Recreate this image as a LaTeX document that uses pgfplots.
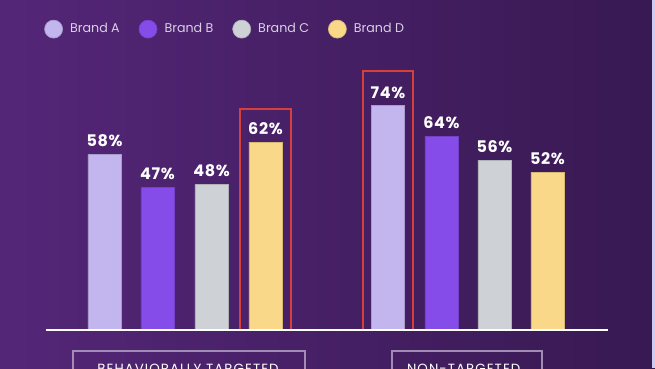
\documentclass[border=0pt]{standalone}
\usepackage{pgfplots}
\pgfplotsset{compat=1.18}
\usepackage{fontspec}
\setmainfont{Poppins}
\definecolor{bgL}{RGB}{84,38,120}
\definecolor{bgR}{RGB}{56,25,82}
\definecolor{brA}{RGB}{195,182,238}
\definecolor{brB}{RGB}{134,76,234}
\definecolor{brC}{RGB}{206,209,213}
\definecolor{brD}{RGB}{250,216,137}
\definecolor{hl}{RGB}{214,64,58}
\definecolor{lgtxt}{RGB}{218,208,230}
\definecolor{boxc}{RGB}{160,140,180}
\definecolor{edge}{RGB}{205,205,240}
\pgfplotsset{dotlegend/.style={legend image code/.code={\fill[##1] (0pt,0pt) circle (6.75pt);}}}
\begin{document}
\begin{tikzpicture}[x=0.75pt,y=0.75pt]
\useasboundingbox (0,0) rectangle (655,368);
\shade[left color=bgL,right color=bgR] (0,0) rectangle (655,368);
\fill[edge] (652,0) rectangle (655,368);
\clip (0,0) rectangle (655,368);
\begin{axis}[
  at={(0,0)}, anchor=south west,
  scale only axis, width=491.25pt, height=276pt,
  xmin=0, xmax=655, ymin=-12.54, ymax=108.91,
  axis lines=none, clip=false,
  nodes near coords={\pgfmathprintnumber[assume math mode=true]{\pgfplotspointmeta}\%},
  every node near coord/.append style={font=\bfseries\fontsize{12}{12}\selectfont\addfontfeatures{LetterSpace=4}, text=white, yshift=2pt},
  legend columns=4,
  legend style={at={(axis cs:44,99.3)}, anchor=west, draw=none, fill=none, inner sep=0pt,
    font=\fontsize{9.5}{10}\selectfont, text=lgtxt,
    /tikz/every even column/.append style={column sep=12.2pt},
    /tikz/every odd column/.append style={column sep=3.4pt}},
]
\addplot[ybar, bar width=25pt, bar shift=0pt, fill=brA, draw=brA!85!black, line width=0.5pt, dotlegend] coordinates {(104.5,58) (388,74)};
\addlegendentry{Brand A}
\addplot[ybar, bar width=25pt, bar shift=0pt, fill=brB, draw=brB!85!black, line width=0.5pt, dotlegend] coordinates {(157.5,47) (441.5,64)};
\addlegendentry{Brand B}
\addplot[ybar, bar width=25pt, bar shift=0pt, fill=brC, draw=brC!85!black, line width=0.5pt, dotlegend] coordinates {(211.5,48) (494.5,56)};
\addlegendentry{Brand C}
\addplot[ybar, bar width=25pt, bar shift=0pt, fill=brD, draw=brD!85!black, line width=0.5pt, dotlegend] coordinates {(265.5,62) (547.5,52)};
\addlegendentry{Brand D}
\draw[hl, line width=1.5pt] (axis cs:240,0) rectangle (axis cs:291,72.94);
\draw[hl, line width=1.5pt] (axis cs:363,0) rectangle (axis cs:413,85.48);
\draw[white, line width=1.6pt] (axis cs:46,0) -- (axis cs:608,0);
\draw[boxc, line width=1pt] (axis cs:73,-25) rectangle (axis cs:305,-6.93);
\draw[boxc, line width=1pt] (axis cs:392,-25) rectangle (axis cs:542,-6.93);
\node[anchor=base, text=white, font=\fontsize{10}{10}\selectfont\addfontfeatures{LetterSpace=8}] at (axis cs:188,-14.3) {BEHAVIORALLY TARGETED};
\node[anchor=base, text=white, font=\fontsize{10}{10}\selectfont\addfontfeatures{LetterSpace=8}] at (axis cs:463.7,-14.3) {NON-TARGETED};
\end{axis}
\end{tikzpicture}
\end{document}
